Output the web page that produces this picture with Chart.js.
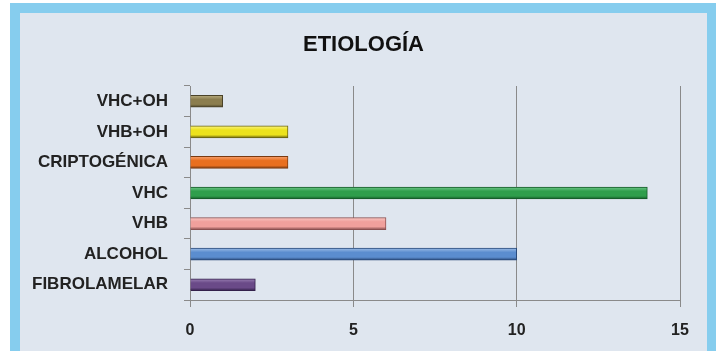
<!DOCTYPE html>
<html>
<head>
<meta charset="utf-8">
<script src="https://cdn.jsdelivr.net/npm/chart.js@4"></script>
<style>
  html, body { margin: 0; padding: 0; background: #ffffff; }
  .frame {
    position: absolute; left: 10px; top: 3px; width: 706px; height: 360px;
    background: #86cdee;
  }
  .panel {
    position: absolute; left: 20px; top: 13px; width: 687px; height: 338px;
    background: #dfe6ef;
  }
</style>
</head>
<body>
<div class="frame"></div>
<div class="panel"><canvas id="chart" width="687" height="338"></canvas></div>
<script>
const chartTitle = "ETIOLOGÍA";
const categories = ["VHC+OH", "VHB+OH", "CRIPTOGÉNICA", "VHC", "VHB", "ALCOHOL", "FIBROLAMELAR"];
const values = [1, 3, 3, 14, 6, 10, 2];
const barColors = ["#8b7d4e", "#ece21c", "#e86f1f", "#2f9e4c", "#f0a09c", "#5b8dcf", "#6a4a88"];
const lightColors = ["#b8ad80", "#fbf480", "#f6a070", "#70c88a", "#f8c8c4", "#9cbce6", "#9a80b4"];
const edgeColors = ["#4a4228", "#6a6410", "#7a3a10", "#145a28", "#8a5050", "#2a4a7a", "#33204a"];
const xTicks = [0, 5, 10, 15];

const ctx = document.getElementById("chart");

// tube-like shading, lighter on top, darker at the bottom
function barFill(context) {
    const i = context.dataIndex;
    const chart = context.chart;
    const yScale = chart.scales.y;
    if (!yScale || yScale.top === undefined) return barColors[i];
    const cy = yScale.getPixelForValue(i);
    const g = chart.ctx.createLinearGradient(0, cy - 6, 0, cy + 6);
    g.addColorStop(0, lightColors[i]);
    g.addColorStop(0.35, barColors[i]);
    g.addColorStop(0.75, barColors[i]);
    g.addColorStop(1, edgeColors[i]);
    return g;
}

// title centred on the whole panel, not on the padded box
const centeredTitle = {
    id: "centeredTitle",
    afterDraw(chart) {
        const c = chart.ctx;
        c.save();
        c.font = "bold 22px 'Liberation Sans'";
        c.fillStyle = "#111";
        c.textAlign = "center";
        c.textBaseline = "middle";
        c.fillText(chartTitle, chart.width / 2, 32);
        c.restore();
    }
};

new Chart(ctx, {
    type: "bar",
    data: {
        labels: categories,
        datasets: [{
            data: values,
            backgroundColor: barFill,
            borderColor: edgeColors,
            borderWidth: 1,
            barThickness: 12
        }]
    },
    options: {
        indexAxis: "y",
        responsive: false,
        animation: false,
        layout: { padding: { top: 73, right: 27, left: 0, bottom: 0 } },
        plugins: {
            legend: { display: false },
            tooltip: { enabled: false },
            title: { display: false }
        },
        scales: {
            x: {
                min: xTicks[0],
                max: xTicks[xTicks.length - 1],
                afterBuildTicks: (scale) => { scale.ticks = xTicks.map(v => ({ value: v })); },
                afterFit: (scale) => { scale.height = 51; },
                grid: { color: "#8a8a8a", lineWidth: 1, tickLength: 7 },
                border: { color: "#8a8a8a" },
                ticks: {
                    color: "#222",
                    padding: 14,
                    font: { family: "Liberation Sans", size: 16, weight: "bold" }
                }
            },
            y: {
                afterFit: (scale) => { scale.width = 170; },
                grid: { drawOnChartArea: false, color: "#8a8a8a", tickLength: 6 },
                border: { color: "#8a8a8a" },
                ticks: {
                    color: "#222",
                    padding: 16,
                    font: { family: "Liberation Sans", size: 17, weight: "bold" }
                }
            }
        }
    },
    plugins: [centeredTitle]
});
</script>
</body>
</html>
